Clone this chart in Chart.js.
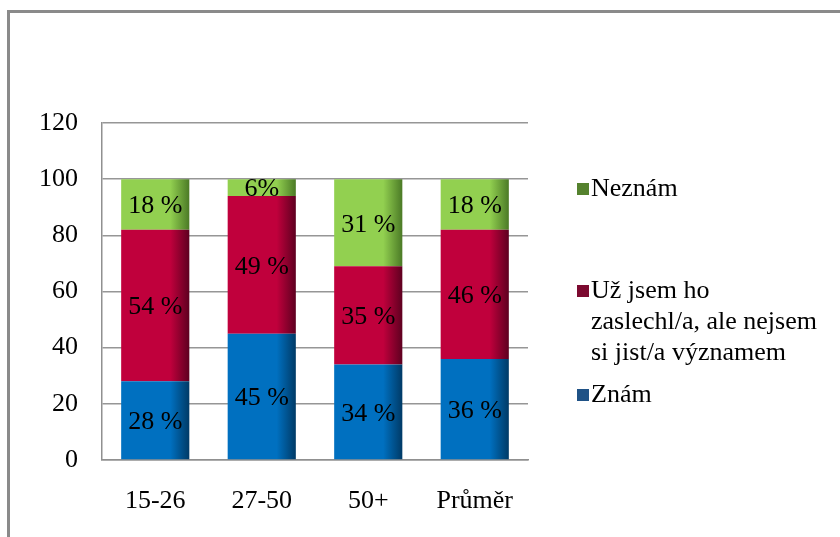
<!DOCTYPE html>
<html>
<head>
<meta charset="utf-8">
<script src="https://cdn.jsdelivr.net/npm/chart.js@4/dist/chart.umd.min.js"></script>
<style>
  html, body { margin: 0; padding: 0; background: #fff; }
  #wrap { width: 840px; height: 537px; position: relative; }
</style>
</head>
<body>
<div id="wrap"><canvas id="graf" width="840" height="537"></canvas></div>
<script>
const kategorie = ['15-26', '27-50', '50+', 'Průměr'];
const znam = [28, 45, 34, 36];
const zaslechl = [54, 49, 35, 46];
const neznam = [18, 6, 31, 18];
const yTicks = [0, 20, 40, 60, 80, 100, 120];

const FONT = '"Liberation Serif", "Times New Roman", serif';

// barva -> [svetla, tmava hrana]
const barvy = {
  znam: ['#0070C0', '#003a66'],
  zaslechl: ['#C0003C', '#5e0020'],
  neznam: ['#92D050', '#4b7a26']
};
const legendaBarvy = {
  znam: '#1f5286',
  zaslechl: '#7c0a30',
  neznam: '#55822e'
};

function gradBar(par) {
  return function(context) {
    const chart = context.chart;
    const x = chart.scales.x;
    if (!x || !chart.chartArea) return par[0];
    const cat = (chart.chartArea.right - chart.chartArea.left) / kategorie.length;
    const w = cat * 0.64;
    const cx = x.getPixelForValue(context.dataIndex);
    const g = chart.ctx.createLinearGradient(cx - w / 2, 0, cx + w / 2, 0);
    g.addColorStop(0, par[0]);
    g.addColorStop(0.72, par[0]);
    g.addColorStop(1, par[1]);
    return g;
  };
}

const ramecek = {
  id: 'ramecek',
  beforeDraw(chart) {
    const c = chart.ctx;
    c.save();
    c.strokeStyle = '#8a8a8a';
    c.lineWidth = 3;
    c.strokeRect(8.5, 11.5, 900, 600);
    c.restore();
  }
};

const popisky = {
  id: 'popisky',
  afterDatasetsDraw(chart) {
    const c = chart.ctx;
    c.save();
    c.font = '26px ' + FONT;
    c.fillStyle = '#000';
    c.textAlign = 'center';
    c.textBaseline = 'middle';
    chart.data.datasets.forEach((ds, i) => {
      const meta = chart.getDatasetMeta(i);
      meta.data.forEach((bar, j) => {
        const v = ds.data[j];
        const t = v < 10 ? v + '%' : v + ' %';
        c.fillText(t, bar.x, (bar.y + bar.base) / 2 + 2);
      });
    });
    c.restore();
  }
};

const legenda = {
  id: 'legenda',
  afterDraw(chart) {
    const c = chart.ctx;
    const polozky = [
      { klic: 'neznam', radky: ['Neznám'], y: 189 },
      { klic: 'zaslechl', radky: ['Už jsem ho', 'zaslechl/a, ale nejsem', 'si jist/a významem'], y: 291 },
      { klic: 'znam', radky: ['Znám'], y: 395 }
    ];
    c.save();
    c.font = '26px ' + FONT;
    c.fillStyle = '#000';
    c.textBaseline = 'middle';
    polozky.forEach(p => {
      c.fillStyle = legendaBarvy[p.klic];
      c.fillRect(577, p.y - 6, 12, 12);
      c.fillStyle = '#000';
      p.radky.forEach((r, k) => c.fillText(r, 591, p.y + k * 31));
    });
    c.restore();
  }
};

new Chart(document.getElementById('graf'), {
  type: 'bar',
  data: {
    labels: kategorie,
    datasets: [
      { label: 'Znám', data: znam, backgroundColor: gradBar(barvy.znam) },
      { label: 'Už jsem ho zaslechl/a, ale nejsem si jist/a významem', data: zaslechl, backgroundColor: gradBar(barvy.zaslechl) },
      { label: 'Neznám', data: neznam, backgroundColor: gradBar(barvy.neznam) }
    ]
  },
  options: {
    responsive: false,
    animation: false,
    categoryPercentage: 0.64,
    barPercentage: 1,
    layout: { padding: { top: 123, right: 312, bottom: 0, left: 0 } },
    plugins: {
      legend: { display: false },
      tooltip: { enabled: false }
    },
    scales: {
      x: {
        stacked: true,
        grid: { display: false, drawTicks: false },
        border: { display: true, color: '#909090', width: 1.5 },
        ticks: { font: { family: FONT, size: 26 }, color: '#000', padding: 26 },
        afterFit(s) { s.height = 77; }
      },
      y: {
        stacked: true,
        min: 0,
        max: 120,
        afterBuildTicks(s) { s.ticks = yTicks.map(v => ({ value: v })); },
        grid: { color: '#969696', lineWidth: 1.5, drawTicks: false },
        border: { display: true, color: '#909090', width: 1.5 },
        ticks: { font: { family: FONT, size: 26 }, color: '#000', padding: 24 },
        afterFit(s) { s.width = 102; }
      }
    }
  },
  plugins: [ramecek, popisky, legenda]
});
</script>
</body>
</html>
